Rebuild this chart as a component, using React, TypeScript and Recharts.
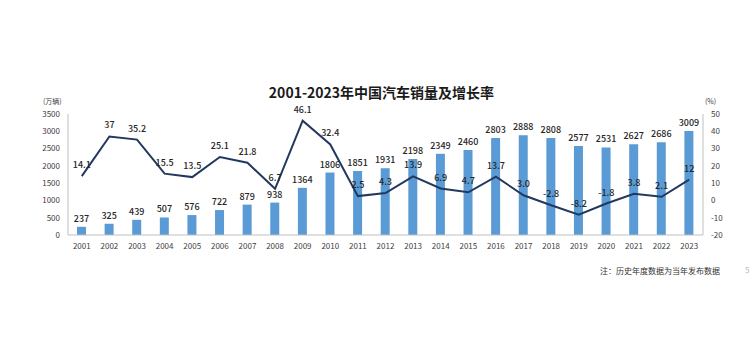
import { ComposedChart, Bar, Line, XAxis, YAxis, LabelList } from 'recharts';

const years = [
  '2001', '2002', '2003', '2004', '2005', '2006', '2007', '2008', '2009', '2010', '2011', '2012',
  '2013', '2014', '2015', '2016', '2017', '2018', '2019', '2020', '2021', '2022', '2023',
];
const sales = [
  237, 325, 439, 507, 576, 722, 879, 938, 1364, 1806, 1851, 1931,
  2198, 2349, 2460, 2803, 2888, 2808, 2577, 2531, 2627, 2686, 3009,
];
const growth = [
  14.1, 37, 35.2, 15.5, 13.5, 25.1, 21.8, 6.7, 46.1, 32.4, 2.5, 4.3,
  13.9, 6.9, 4.7, 13.7, 3.0, -2.8, -8.2, -1.8, 3.8, 2.1, 12,
];
const growthText = [
  '14.1', '37', '35.2', '15.5', '13.5', '25.1', '21.8', '6.7', '46.1', '32.4', '2.5', '4.3',
  '13.9', '6.9', '4.7', '13.7', '3.0', '-2.8', '-8.2', '-1.8', '3.8', '2.1', '12',
];
const leftTicks = [0, 500, 1000, 1500, 2000, 2500, 3000, 3500];
const rightTicks = [-20, -10, 0, 10, 20, 30, 40, 50];

const data = years.map((y, i) => ({ year: y, sales: sales[i], growth: growth[i], gText: growthText[i] }));

const FONT = '"Noto Sans CJK SC", "Noto Sans", sans-serif';
const TICK = { fontFamily: FONT, fontSize: 8, fill: '#404040' };
const LABEL = { fontFamily: FONT, fontSize: 9, fill: '#262626', fontWeight: 500 };

export default function App() {
  return (
    <div style={{ position: 'absolute', left: 0, top: 0, width: 755, height: 363, background: '#fff', fontFamily: FONT }}>
      <div style={{ position: 'absolute', left: 0, width: 755, top: 82, textAlign: 'center', paddingLeft: 4,
        fontSize: 14, fontWeight: 700, color: '#1a1a1a' }}>
        2001-2023年中国汽车销量及增长率
      </div>
      <div style={{ position: 'absolute', left: 43, top: 96, fontSize: 7, color: '#404040' }}>(万辆)</div>
      <div style={{ position: 'absolute', left: 705, top: 96, fontSize: 7, color: '#404040' }}>(%)</div>
      <div style={{ position: 'absolute', left: 600, top: 265, fontSize: 8, color: '#333' }}>注：历史年度数据为当年发布数据</div>
      <div style={{ position: 'absolute', left: 745, top: 264, fontSize: 8, color: '#bbb' }}>5</div>
      <ComposedChart width={755} height={363} data={data}
        margin={{ top: 114, right: 0, left: 0, bottom: 0 }} barCategoryGap={9}>
        <XAxis dataKey="year" tick={TICK} tickLine={false} axisLine={{ stroke: '#bfbfbf' }} height={128} interval={0} />
        <YAxis yAxisId="l" domain={[0, 3500]} ticks={leftTicks} tick={TICK} tickLine={false} interval={0}
          axisLine={{ stroke: '#bfbfbf' }} width={68} />
        <YAxis yAxisId="r" orientation="right" domain={[-20, 50]} ticks={rightTicks} tick={TICK} tickLine={false}
          interval={0} axisLine={{ stroke: '#bfbfbf' }} width={52} />
        <Bar yAxisId="l" dataKey="sales" fill="#5b9bd5" barSize={9} isAnimationActive={false}>
          <LabelList dataKey="sales" position="top" offset={5} style={LABEL} />
        </Bar>
        <Line yAxisId="r" dataKey="growth" type="linear" stroke="#22385f" strokeWidth={2} dot={false}
          isAnimationActive={false}>
          <LabelList dataKey="gText" position="top" offset={8} style={LABEL} />
        </Line>
      </ComposedChart>
    </div>
  );
}
